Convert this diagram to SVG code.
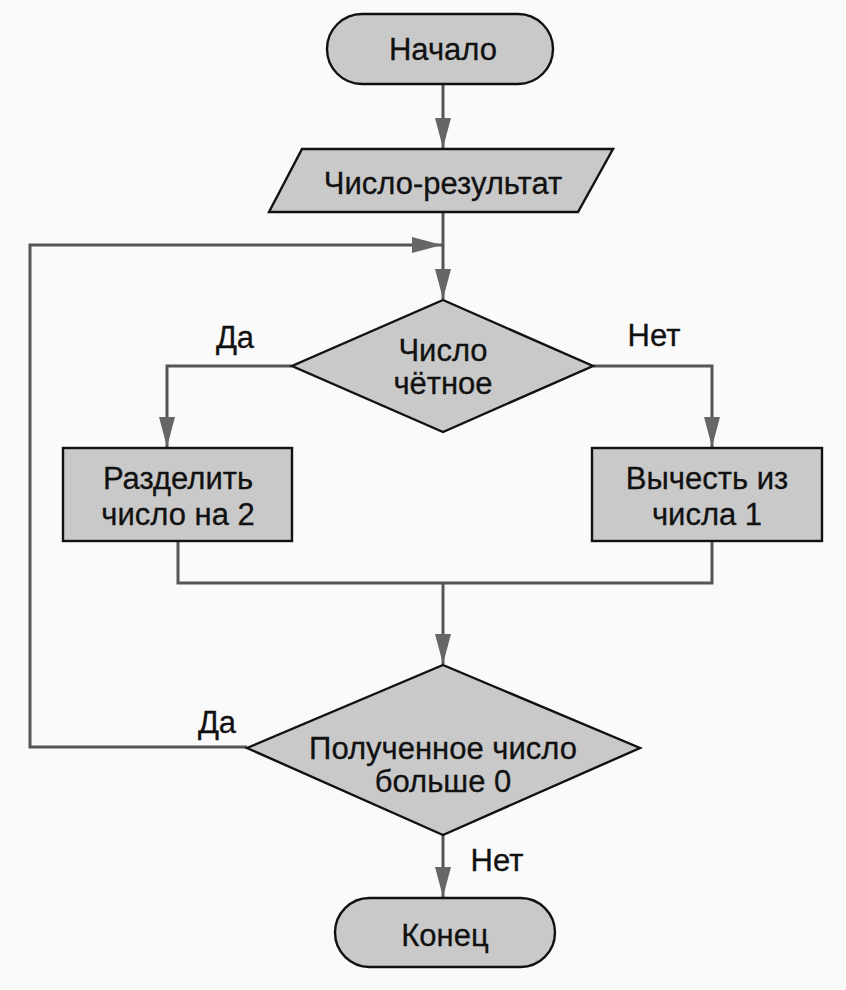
<svg xmlns="http://www.w3.org/2000/svg" width="846" height="990" viewBox="0 0 846 990">
<defs>
<style>
.shape{fill:#c9c9c9;stroke:#111;stroke-width:2.4}
.conn{fill:none;stroke:#555;stroke-width:3}
text{font-family:"Liberation Sans",Arial,sans-serif;font-size:31px;fill:#111;stroke:#111;stroke-width:0.3;text-anchor:middle}
</style>
<marker id="arr" markerWidth="30" markerHeight="16" refX="30" refY="8" orient="auto" markerUnits="userSpaceOnUse" viewBox="0 0 30 16">
<path d="M0,0 L30,8 L0,16 Z" fill="#666"/>
</marker>
</defs>
<rect width="846" height="990" fill="#fafafa"/>
<g id="connectors">
<path class="conn" d="M443,84 V148" marker-end="url(#arr)"/>
<path class="conn" d="M443,212 V299" marker-end="url(#arr)"/>
<path class="conn" d="M292,366 H167 V447" marker-end="url(#arr)"/>
<path class="conn" d="M593,366 H712 V447" marker-end="url(#arr)"/>
<path class="conn" d="M178,541 V583 H712 V541"/>
<path class="conn" d="M443,583 V664" marker-end="url(#arr)"/>
<path class="conn" d="M247,747 H30 V245 H442" marker-end="url(#arr)"/>
<path class="conn" d="M443,835 V897" marker-end="url(#arr)"/>
</g>
<g id="start">
<rect class="shape" x="327" y="14" width="226" height="70" rx="35"/>
<text x="443" y="60">Начало</text>
</g>
<g id="input">
<polygon class="shape" points="302,149 613,149 578,212 269,212"/>
<text x="443" y="194">Число-результат</text>
</g>
<g id="cond1">
<polygon class="shape" points="443,300 593,366 443,432 292,366"/>
<text x="443" y="361">Число</text>
<text x="443" y="394">чётное</text>
</g>
<g id="divide">
<rect class="shape" x="63" y="448" width="229" height="93"/>
<text x="178" y="489">Разделить</text>
<text x="178" y="525">число на 2</text>
</g>
<g id="subtract">
<rect class="shape" x="592" y="448" width="230" height="93"/>
<text x="707" y="489">Вычесть из</text>
<text x="707" y="525">числа 1</text>
</g>
<g id="cond2">
<polygon class="shape" points="443,665 640,748 443,835 247,748"/>
<text x="443" y="759">Полученное число</text>
<text x="443" y="792">больше 0</text>
</g>
<g id="end">
<rect class="shape" x="335" y="898" width="220" height="69" rx="34.5"/>
<text x="445" y="946">Конец</text>
</g>
<g id="labels">
<text x="235" y="348">Да</text>
<text x="654" y="346">Нет</text>
<text x="217" y="733">Да</text>
<text x="497" y="871">Нет</text>
</g>
</svg>
